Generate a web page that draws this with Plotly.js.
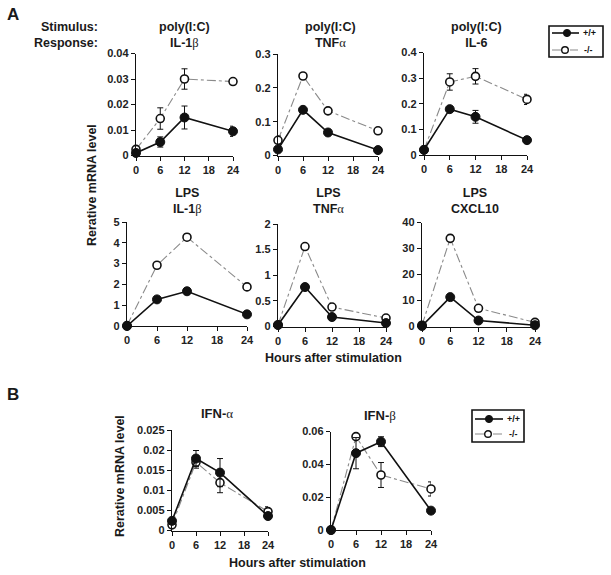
<!DOCTYPE html>
<html>
<head>
<meta charset="utf-8">
<script src="https://cdn.plot.ly/plotly-3.0.1.min.js"></script>
<style>html,body{margin:0;padding:0;background:#fff}#chart{width:611px;height:575px}</style>
</head>
<body>
<div id="chart"></div>
<script>
// ---------- data ----------
const hours = [0, 6, 12, 24];
const xTicks = [0, 6, 12, 18, 24];
const seriesNames = ['+/+', '-/-'];

const polyIL1bWT = [0.001, 0.0053, 0.0149, 0.0095];
const polyIL1bWTerr = [0.0004, 0.002, 0.0045, 0.002];
const polyIL1bKO = [0.0024, 0.0145, 0.030, 0.029];
const polyIL1bKOerr = [0.0005, 0.0042, 0.004, 0.0005];

const polyTNFaWT = [0.018, 0.135, 0.068, 0.016];
const polyTNFaWTerr = [0.004, 0.004, 0.004, 0.003];
const polyTNFaKO = [0.045, 0.235, 0.132, 0.073];
const polyTNFaKOerr = [0.013, 0.008, 0.005, 0.003];

const polyIL6WT = [0.02, 0.179, 0.149, 0.058];
const polyIL6WTerr = [0.003, 0.006, 0.025, 0.005];
const polyIL6KO = [0.02, 0.285, 0.307, 0.217];
const polyIL6KOerr = [0.003, 0.032, 0.03, 0.02];

const lpsIL1bWT = [0.0, 1.28, 1.67, 0.56];
const lpsIL1bWTerr = [0, 0.05, 0.05, 0.05];
const lpsIL1bKO = [0.02, 2.92, 4.27, 1.88];
const lpsIL1bKOerr = [0, 0.08, 0.15, 0.1];

const lpsTNFaWT = [0.03, 0.77, 0.185, 0.067];
const lpsTNFaWTerr = [0, 0.03, 0.02, 0.01];
const lpsTNFaKO = [0.03, 1.56, 0.38, 0.165];
const lpsTNFaKOerr = [0, 0.03, 0.02, 0.02];

const lpsCXCL10WT = [0.2, 11.3, 2.3, 0.5];
const lpsCXCL10WTerr = [0, 0.5, 0.3, 0.1];
const lpsCXCL10KO = [0.5, 33.9, 7.0, 1.6];
const lpsCXCL10KOerr = [0, 1.2, 0.4, 0.2];

const ifnaWT = [0.0024, 0.0179, 0.0144, 0.0036];
const ifnaWTerr = [0.0005, 0.002, 0.0035, 0.0005];
const ifnaKO = [0.0014, 0.017, 0.0119, 0.0047];
const ifnaKOerr = [0.0005, 0.0015, 0.0025, 0.0012];

const ifnbWT = [0.0, 0.0468, 0.0538, 0.0118];
const ifnbWTerr = [0, 0.0095, 0.003, 0.0015];
const ifnbKO = [0.0, 0.0569, 0.0335, 0.025];
const ifnbKOerr = [0, 0.001, 0.0076, 0.0043];

const stimulusLabels = ['poly(I:C)', 'poly(I:C)', 'poly(I:C)', 'LPS', 'LPS', 'LPS'];
const G = (c) => "<span style='font-family:Liberation Serif;font-weight:normal'>" + c + "</span>";
const responseLabels = ['IL-1' + G('β'), 'TNF' + G('α'), 'IL-6', 'IL-1' + G('β'), 'TNF' + G('α'), 'CXCL10'];
const ifnLabels = ['IFN-' + G('α'), 'IFN-' + G('β')];
const yLabel = 'Rerative mRNA level';
const xLabel = 'Hours after stimulation';

// ---------- layout helpers (pixel -> paper) ----------
const W = 611, H = 575;
const px = x => x / W;
const py = y => 1 - y / H;

const panels = [
  {wt: polyIL1bWT, wte: polyIL1bWTerr, ko: polyIL1bKO, koe: polyIL1bKOerr, ymax: 0.04, dtick: 0.01, x: [136, 233], y: [53.5, 155.5]},
  {wt: polyTNFaWT, wte: polyTNFaWTerr, ko: polyTNFaKO, koe: polyTNFaKOerr, ymax: 0.3, dtick: 0.1, x: [278, 378], y: [54, 155.5]},
  {wt: polyIL6WT, wte: polyIL6WTerr, ko: polyIL6KO, koe: polyIL6KOerr, ymax: 0.4, dtick: 0.1, x: [424, 527], y: [52.5, 155]},
  {wt: lpsIL1bWT, wte: lpsIL1bWTerr, ko: lpsIL1bKO, koe: lpsIL1bKOerr, ymax: 5, dtick: 1, x: [127, 247], y: [222, 326]},
  {wt: lpsTNFaWT, wte: lpsTNFaWTerr, ko: lpsTNFaKO, koe: lpsTNFaKOerr, ymax: 2, dtick: 0.5, x: [278, 386], y: [224, 326.5]},
  {wt: lpsCXCL10WT, wte: lpsCXCL10WTerr, ko: lpsCXCL10KO, koe: lpsCXCL10KOerr, ymax: 40, dtick: 10, x: [422, 535], y: [222.5, 326.5]},
  {wt: ifnaWT, wte: ifnaWTerr, ko: ifnaKO, koe: ifnaKOerr, ymax: 0.025, dtick: 0.005, x: [172, 268], y: [430, 530.5]},
  {wt: ifnbWT, wte: ifnbWTerr, ko: ifnbKO, koe: ifnbKOerr, ymax: 0.06, dtick: 0.02, x: [331, 431], y: [431.5, 530]}
];

const FONT = 'Liberation Sans, Arial, sans-serif';
const INK = '#111';
const KO_LINE = '#8a8a8a';
const tickFont = {family: FONT, size: 11, color: '#222', weight: 'bold'};

const traces = [];
const layout = {
  width: W, height: H,
  margin: {l: 0, r: 0, t: 0, b: 0},
  paper_bgcolor: '#fff', plot_bgcolor: 'rgba(0,0,0,0)',
  showlegend: false,
  annotations: [],
  shapes: []
};

panels.forEach((p, i) => {
  const n = i + 1;
  const xa = 'x' + (n === 1 ? '' : n), ya = 'y' + (n === 1 ? '' : n);
  const xk = 'xaxis' + (n === 1 ? '' : n), yk = 'yaxis' + (n === 1 ? '' : n);
  layout[xk] = {
    domain: [px(p.x[0]), px(p.x[1])], anchor: ya, range: [0, 24],
    tickvals: xTicks, ticks: 'outside', ticklen: 4, tickwidth: 1, tickcolor: INK,
    showline: true, linecolor: INK, linewidth: 1.2, showgrid: false, zeroline: false,
    tickfont: tickFont, fixedrange: true
  };
  layout[yk] = {
    domain: [py(p.y[1]), py(p.y[0])], anchor: xa, range: [0, p.ymax],
    tick0: 0, dtick: p.dtick, ticks: 'outside', ticklen: 4, tickwidth: 1, tickcolor: INK,
    showline: true, linecolor: INK, linewidth: 1.2, showgrid: false, zeroline: false,
    tickfont: tickFont, fixedrange: true
  };
  traces.push({
    x: hours, y: p.ko, xaxis: xa, yaxis: ya, type: 'scatter', mode: 'lines+markers', cliponaxis: false,
    name: seriesNames[1],
    line: {color: KO_LINE, width: 1.1, dash: 'dashdot'},
    marker: {symbol: 'circle', size: 8, color: '#fff', line: {color: INK, width: 1.6}},
    error_y: {type: 'data', array: p.koe, visible: true, color: INK, thickness: 1, width: 3}
  });
  traces.push({
    x: hours, y: p.wt, xaxis: xa, yaxis: ya, type: 'scatter', mode: 'lines+markers', cliponaxis: false,
    name: seriesNames[0],
    line: {color: INK, width: 1.6},
    marker: {symbol: 'circle', size: 9, color: INK, line: {color: INK, width: 1}},
    error_y: {type: 'data', array: p.wte, visible: true, color: INK, thickness: 1, width: 3}
  });
});

const ann = (text, x, y, size, extra) => Object.assign({
  text: text, x: px(x), y: py(y), xref: 'paper', yref: 'paper', showarrow: false,
  xanchor: 'center', yanchor: 'middle', font: {family: FONT, size: size, color: '#1a1a1a', weight: 'bold'}
}, extra || {});

// panel titles (two lines each)
const titleCentersTop = [184.5, 330, 476];
const titleCentersMid = [187, 328, 475];
for (let i = 0; i < 3; i++) {
  layout.annotations.push(ann(stimulusLabels[i] + '<br>' + responseLabels[i], titleCentersTop[i], 34.5, 12.5));
  layout.annotations.push(ann(stimulusLabels[i + 3] + '<br>' + responseLabels[i + 3], titleCentersMid[i], 201, 12.5));
}
layout.annotations.push(ann(ifnLabels[0], 217, 413, 13));
layout.annotations.push(ann(ifnLabels[1], 380, 415, 13));
layout.annotations.push(ann('Stimulus:<br>Response:', 100, 34.5, 12.5, {xanchor: 'right', align: 'right'}));
layout.annotations.push(ann('A', 13, 15, 17));
layout.annotations.push(ann('B', 13, 394, 17));
layout.annotations.push(ann(yLabel, 92, 185, 12.5, {textangle: -90}));
layout.annotations.push(ann(yLabel, 120, 476, 12.5, {textangle: -90}));
layout.annotations.push(ann(xLabel, 333.5, 358, 12.5));
layout.annotations.push(ann(xLabel, 297.5, 563, 12.5));

// ---------- legend keys (decoration, paper coords) ----------
function addLegend(box, rows) {
  layout.shapes.push({type: 'rect', xref: 'paper', yref: 'paper',
    x0: px(box[0]), x1: px(box[1]), y0: py(box[3]), y1: py(box[2]),
    line: {color: INK, width: 1.6}, fillcolor: 'rgba(0,0,0,0)'});
  rows.forEach((r, k) => {
    const isWT = k === 0;
    layout.shapes.push({type: 'line', xref: 'paper', yref: 'paper',
      x0: px(r.l0), x1: px(r.l1), y0: py(r.y), y1: py(r.y),
      line: {color: isWT ? INK : KO_LINE, width: isWT ? 1.6 : 1.1, dash: isWT ? 'solid' : 'dashdot'}});
    const rad = isWT ? 3.6 : 3.3;
    layout.shapes.push({type: 'circle', xref: 'paper', yref: 'paper',
      x0: px(r.m - rad), x1: px(r.m + rad), y0: py(r.y + rad), y1: py(r.y - rad),
      fillcolor: isWT ? INK : '#fff', line: {color: INK, width: isWT ? 1 : 1.4}});
    layout.annotations.push(ann(seriesNames[k], r.t, r.y, 9, {font: {family: FONT, size: 9, color: '#111', weight: 'bold'}}));
  });
}
addLegend([549, 603, 26, 57], [
  {y: 33, l0: 552, l1: 579, m: 567, t: 589},
  {y: 50, l0: 552, l1: 578, m: 565, t: 588}
]);
addLegend([472, 524, 410, 442], [
  {y: 419, l0: 475, l1: 503, m: 489, t: 513},
  {y: 434, l0: 475, l1: 503, m: 488, t: 513}
]);

Plotly.newPlot('chart', traces, layout, {displayModeBar: false, staticPlot: true});
</script>
</body>
</html>
